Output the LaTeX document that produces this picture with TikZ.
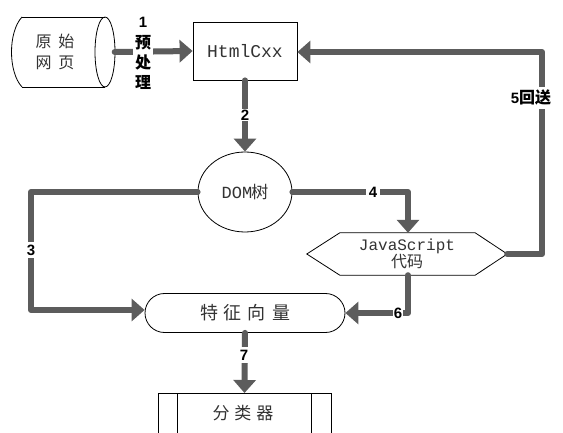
\documentclass[tikz,border=0pt]{standalone}
\usepackage{fontspec}
\setmainfont{Liberation Sans}
\newfontfamily\cjk{Noto Sans CJK SC}
\newfontfamily\mono{Liberation Mono}
\usetikzlibrary{arrows.meta,shapes.geometric,shapes.misc,calc}
\definecolor{conngray}{HTML}{5C5C5C}
\tikzset{
  conn/.style={draw=conngray, line width=6pt, line cap=round, line join=round},
  arr/.style={conn, -{Triangle[width=22pt,length=13pt]}},
  outline/.style={draw=black, line width=0.8pt},
  lab/.style={fill=white, inner sep=1pt, font=\bfseries\fontsize{15}{16}\selectfont},
  cjklab/.style={fill=white, inner sep=1pt, font=\cjk\bfseries\fontsize{16}{20}\selectfont},
  txt/.style={font=\cjk\fontsize{16}{18}\selectfont, text=black!80},
}
\begin{document}
\begin{tikzpicture}[x=1pt,y=-1pt]
\useasboundingbox (0,0) rectangle (563,433);
\clip (0,0) rectangle (563,433);
\fill[white] (0,0) rectangle (563,433);

% source cylinder
\node[minimum width=103pt, minimum height=70pt, inner sep=0pt] (src) at (63,52) {};
\draw[outline] (22,17) -- (105,17);
\draw[outline] (22,87) -- (105,87);
\draw[outline] (22,17) .. controls (8,32) and (8,72) .. (22,87);
\draw[outline] (105,52) ellipse [x radius=10, y radius=35];
\node[txt] (srct1) at (55,41) {原\hspace{7pt}始};
\node[txt] (srct2) at (55,63) {网\hspace{7pt}页};

% HtmlCxx box
\node[outline, minimum width=104pt, minimum height=58pt, inner sep=0pt,
      font=\mono\fontsize{18}{20}\selectfont, text=black!80] (html) at (245,51) {HtmlCxx};

% DOM tree ellipse
\node[outline, ellipse, minimum width=94pt, minimum height=80pt, inner sep=0pt, text=black!80] (dom) at (245,192)
  {\mono\fontsize{17}{18}\selectfont DOM\kern-1pt\cjk\fontsize{17}{18}\selectfont 树};

% JavaScript hexagon
\node[minimum width=200pt, minimum height=42pt, inner sep=0pt, align=center, text=black!80] (js) at (407,254)
  {\mono\fontsize{16}{17}\selectfont JavaScript\\[-1pt]\cjk\fontsize{16}{17}\selectfont 代码};
\draw[outline] (js.west) -- ($(js.north west)+(33,0)$) -- ($(js.north east)+(-32,0)$)
  -- (js.east) -- ($(js.south east)+(-32,0)$) -- ($(js.south west)+(33,0)$) -- cycle;

% feature vector
\node[outline, rounded rectangle, minimum width=200pt, minimum height=39pt, inner sep=0pt,
      font=\cjk\fontsize{18}{20}\selectfont, text=black!80] (feat) at (245,313)
  {特\hspace{6pt}征\hspace{6pt}向\hspace{6pt}量};

% classifier
\node[outline, minimum width=173pt, minimum height=60pt, inner sep=0pt, anchor=north] (cls) at (244.5,393) {};
\draw[outline] ($(cls.north west)+(20,0)$) -- ($(cls.south west)+(20,0)$);
\draw[outline] ($(cls.north east)+(-20,0)$) -- ($(cls.south east)+(-20,0)$);
\node[font=\cjk\fontsize{17}{18}\selectfont, text=black!80] (clst) at (243,413) {分\hspace{5pt}类\hspace{5pt}器};

% connectors
\coordinate (c3a) at (31,192);
\coordinate (c3b) at (31,310);
\coordinate (c4) at (408,192);
\coordinate (c5a) at (542,254);
\coordinate (c5b) at (542,52);
\coordinate (c6) at (408,313);

\draw[arr] (src.east) -- (html.west);
\draw[arr] (html.south) -- (dom.north);
\draw[arr] (dom.west) -- (c3a) -- (c3b) -- (feat.west |- c3b);
\draw[arr] (dom.east) -- (c4) -- (c4 |- js.north);
\draw[arr] (js.east) -- (c5a) -- (c5b) -- (html.east |- c5b);
\draw[arr] (js.south -| c6) -- (c6) -- (feat.east);
\draw[arr] (feat.south) -- (cls.north);

% labels
\node[lab, inner sep=0pt, fill=none] (l1) at (143,22) {1};
\node[cjklab, align=center, inner sep=2pt] (l1b) at (143,62) {预\\处\\理};
\node[lab] (l2) at (245,115) {2};
\node[lab, inner ysep=3pt] (l3) at (31,250) {3};
\node[lab, inner xsep=3pt] (l4) at (373,192) {4};
\node[lab, inner xsep=0pt, inner ysep=3pt] (l5) at (531,98) {5\cjk\bfseries\fontsize{16}{18}\selectfont 回送};
\node[lab, inner sep=1pt] (l6) at (398,313) {6};
\node[lab, inner ysep=3pt] (l7) at (244,355) {7};
\end{tikzpicture}
\end{document}
